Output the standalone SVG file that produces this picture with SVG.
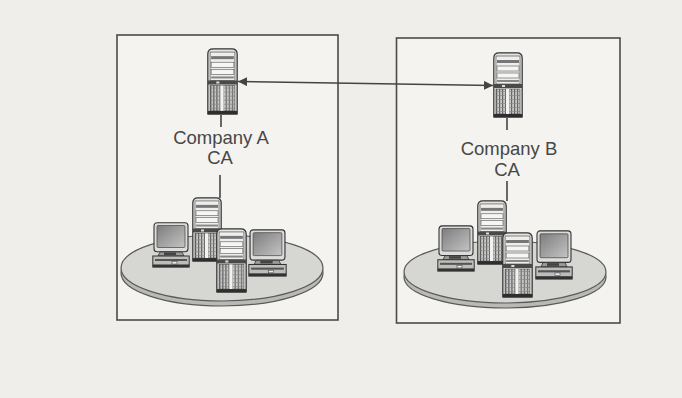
<svg xmlns="http://www.w3.org/2000/svg" width="682" height="398" viewBox="0 0 682 398">
<defs>
<style>
.bg{fill:#efeeeb}
.box{fill:#f4f3f0;stroke:#4a4a4a;stroke-width:1.6}
.conn{stroke:#444;stroke-width:1.6;fill:none}
.lbl{font-family:"Liberation Sans",Arial,sans-serif;font-size:18.5px;fill:#474747;text-anchor:middle}
.disk{fill:#d6d6d3;stroke:#5a5a5a;stroke-width:1.2}
.rim{fill:#b9b9b6;stroke:#5a5a5a;stroke-width:1.2}
</style>
<linearGradient id="scr" x1="0" y1="0" x2="1" y2="1">
<stop offset="0" stop-color="#7d7d7d"/>
<stop offset="1" stop-color="#c4c4c4"/>
</linearGradient>
<radialGradient id="dk" cx="0.5" cy="0.4" r="0.6">
<stop offset="0" stop-color="#e6e6e3"/>
<stop offset="1" stop-color="#cdcdca"/>
</radialGradient>
<pattern id="grille" width="3" height="4" patternUnits="userSpaceOnUse">
<rect width="3" height="4" fill="#c9c9c7"/>
<rect width="1.2" height="4" fill="#666"/>
<rect y="3" width="3" height="0.7" fill="#888"/>
</pattern>
<marker id="ah" viewBox="0 0 10 10" refX="10" refY="5" markerWidth="9" markerHeight="9" markerUnits="userSpaceOnUse" orient="auto-start-reverse">
<path d="M0,0 L10,5 L0,10 Z" fill="#444"/>
</marker>
<symbol id="server" viewBox="0 0 30 66" preserveAspectRatio="none">
<path d="M0.8,6 Q0.8,0.8 6,0.8 H24 Q29.2,0.8 29.2,6 V65 H0.8 Z" fill="#e4e4e2" stroke="#333" stroke-width="1.2"/>
<rect x="3" y="4" width="24" height="28" fill="#eeeeec" stroke="#555" stroke-width="0.7"/>
<rect x="4" y="8" width="22" height="3" fill="#777"/>
<rect x="4" y="14" width="22" height="5" fill="#f6f6f4" stroke="#555" stroke-width="0.6"/>
<rect x="4" y="21" width="22" height="5" fill="#f6f6f4" stroke="#555" stroke-width="0.6"/>
<rect x="4" y="28" width="22" height="2" fill="#888"/>
<rect x="0.8" y="32" width="28.4" height="4" fill="#4a4a4a"/>
<rect x="9" y="33" width="3" height="2" fill="#ddd"/>
<rect x="3" y="37" width="24" height="25" fill="url(#grille)" stroke="#444" stroke-width="0.6"/>
<rect x="13" y="37" width="3" height="25" fill="#f2f2f0"/>
<rect x="0.8" y="62" width="28.4" height="3.5" fill="#2e2e2e"/>
</symbol>
<symbol id="monitor" viewBox="0 0 38 46" preserveAspectRatio="none">
<rect x="2" y="0.8" width="34" height="29" rx="3" fill="#dcdcda" stroke="#333" stroke-width="1.1"/>
<rect x="5" y="3.5" width="28" height="22" rx="1" fill="url(#scr)" stroke="#444" stroke-width="0.7"/>
<path d="M8,30 H30 L32,34 H6 Z" fill="#9a9a98" stroke="#333" stroke-width="0.8"/>
<rect x="12" y="30.5" width="12" height="2.5" fill="#444"/>
<rect x="0.8" y="34" width="36.4" height="11" fill="#bdbdbb" stroke="#333" stroke-width="1"/>
<rect x="3" y="37" width="32" height="2" fill="#555"/>
<rect x="20" y="39.5" width="5" height="2.5" fill="#eee" stroke="#333" stroke-width="0.5"/>
<rect x="0.8" y="42.5" width="36.4" height="2.8" fill="#333"/>
</symbol>
</defs>
<rect class="bg" x="0" y="0" width="682" height="398"/>
<g id="companyA-box">
<rect class="box" x="117" y="35" width="221" height="285"/>
</g>
<g id="companyB-box">
<rect class="box" x="396.5" y="38" width="223.5" height="285"/>
</g>
<g id="connectors">
<line class="conn" x1="238" y1="81.5" x2="493" y2="85.5" marker-start="url(#ah)" marker-end="url(#ah)"/>
<line class="conn" x1="221" y1="115" x2="221" y2="127"/>
<line class="conn" x1="220" y1="175" x2="220" y2="198"/>
<line class="conn" x1="507" y1="118" x2="507" y2="130"/>
<line class="conn" x1="507" y1="181" x2="507" y2="201"/>
</g>
<g id="companyA-ca">
<use href="#server" x="207" y="48" width="31" height="67"/>
<text class="lbl" x="221" y="143.5">Company A</text>
<text class="lbl" x="220" y="164.3">CA</text>
</g>
<g id="companyB-ca">
<use href="#server" x="493" y="52" width="30" height="66"/>
<text class="lbl" x="509" y="155">Company B</text>
<text class="lbl" x="507" y="175.8">CA</text>
</g>
<g id="companyA-network">
<ellipse class="rim" cx="222" cy="273" rx="101" ry="33"/>
<ellipse class="disk" cx="222" cy="268" rx="101" ry="33" fill="url(#dk)"/>
<use href="#monitor" x="152" y="222" width="38" height="46"/>
<use href="#server" x="192" y="197" width="30" height="65"/>
<use href="#monitor" x="248" y="229" width="39" height="48"/>
<use href="#server" x="216" y="228" width="31" height="65"/>
</g>
<g id="companyB-network">
<ellipse class="rim" cx="505" cy="277" rx="101" ry="31"/>
<ellipse class="disk" cx="505" cy="272" rx="101" ry="31" fill="url(#dk)"/>
<use href="#monitor" x="437" y="225" width="38" height="47"/>
<use href="#server" x="477" y="200" width="30" height="65"/>
<use href="#monitor" x="535" y="230" width="38" height="50"/>
<use href="#server" x="502" y="232" width="31" height="66"/>
</g>
</svg>
